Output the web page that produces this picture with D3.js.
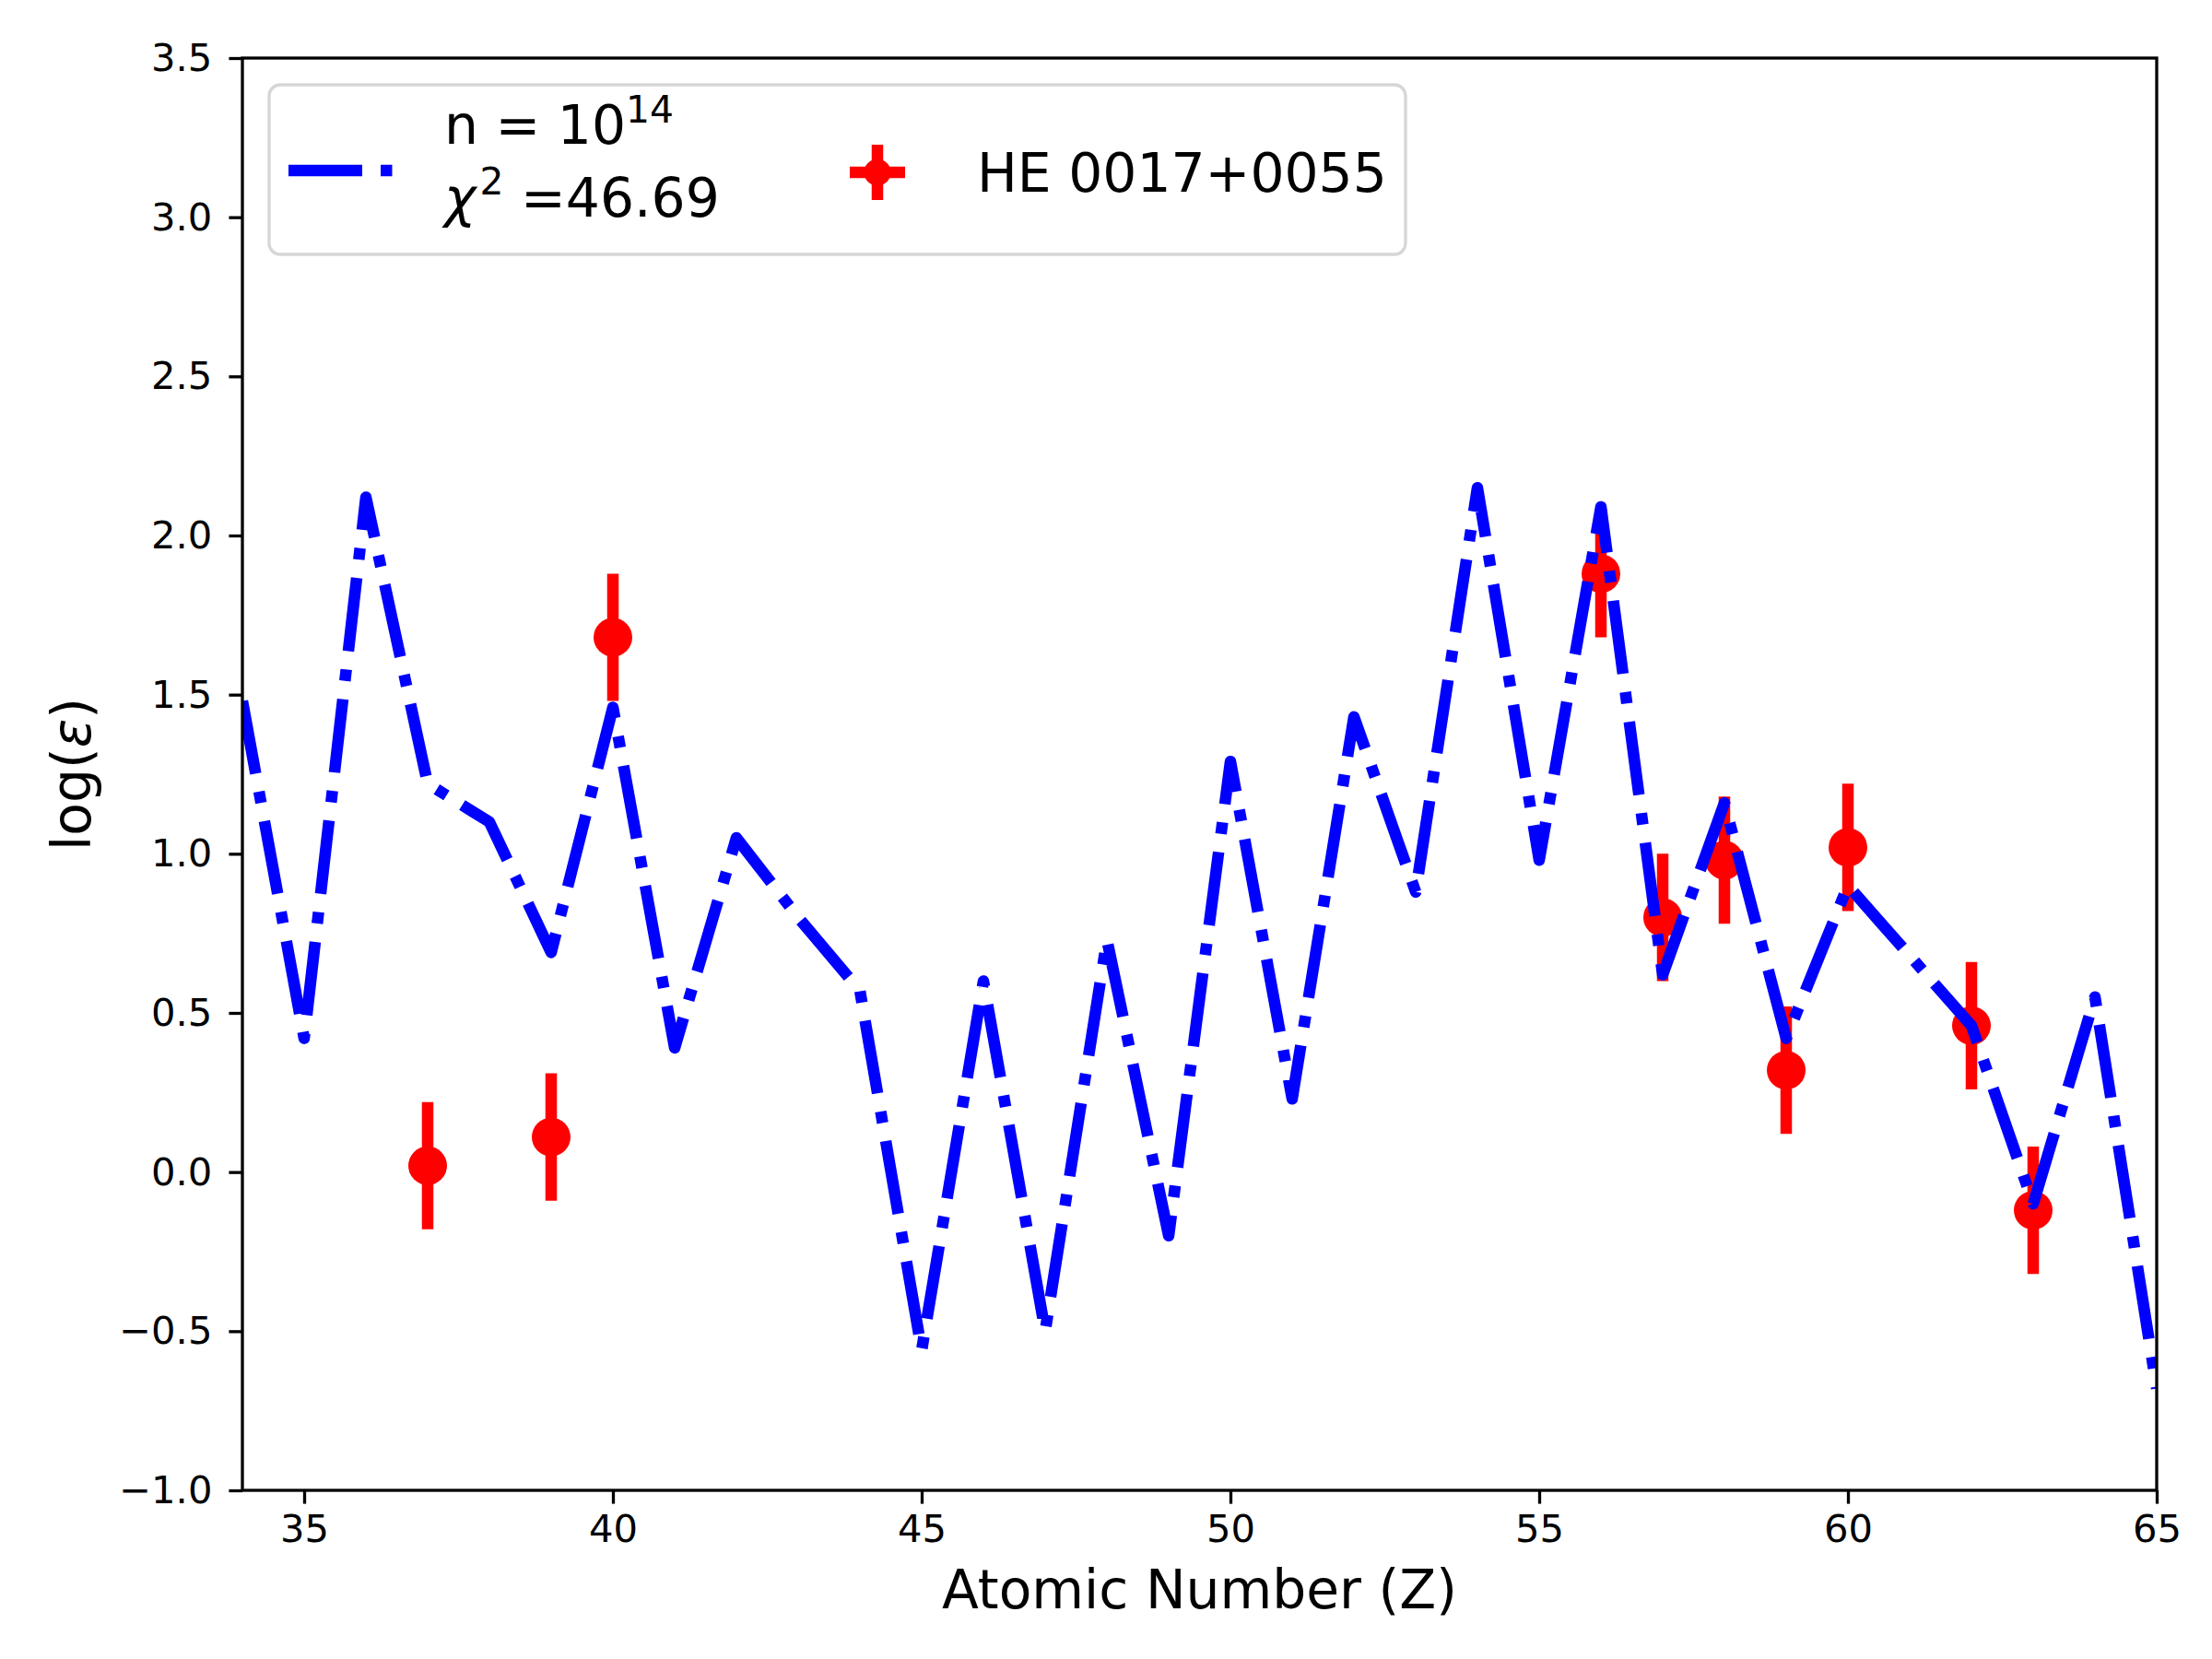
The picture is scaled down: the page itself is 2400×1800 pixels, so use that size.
<!DOCTYPE html>
<html>
<head>
<meta charset="utf-8">
<script src="https://cdn.jsdelivr.net/npm/d3@7"></script>
<style>
  body { margin: 0; background: #fff; }
</style>
</head>
<body>
<div id="chart"></div>
<script>
// Model abundances (n = 10^14) for every Z, and the observed star
const zModel = [34, 35, 36, 37, 38, 39, 40, 41, 42, 43, 44, 45, 46, 47, 48, 49,
  50, 51, 52, 53, 54, 55, 56, 57, 58, 59, 60, 61, 62, 63, 64, 65]
const logModel = [1.48, 0.42, 2.12, 1.22, 1.10, 0.69, 1.46, 0.39, 1.05, 0.80, 0.57, -0.56, 0.60, -0.50, 0.73, -0.20,
  1.29, 0.23, 1.43, 0.88, 2.15, 0.98, 2.09, 0.62, 1.16, 0.42, 0.90, 0.68, 0.46, -0.10, 0.55, -0.68]

const zObs = [37, 39, 40, 56, 57, 58, 59, 60, 62, 63]
const logObs = [0.02, 0.11, 1.68, 1.88, 0.80, 0.98, 0.32, 1.02, 0.46, -0.12]
const errObs = [0.2, 0.2, 0.2, 0.2, 0.2, 0.2, 0.2, 0.2, 0.2, 0.2]

const xTicks = [35, 40, 45, 50, 55, 60, 65]
const yTicks = [-1.0, -0.5, 0.0, 0.5, 1.0, 1.5, 2.0, 2.5, 3.0, 3.5]

const modelLabel = ['n = 10', '14', '=46.69']
const obsLabel = 'HE 0017+0055'

// Figure layout (8x6 in at 300 dpi)
const width = 2400
const height = 1800
const margin = {left: 263, right: 60, top: 63, bottom: 183}
const plotW = width - margin.left - margin.right
const plotH = height - margin.top - margin.bottom
const font = "'DejaVu Sans', sans-serif"
const lw = 12.5

const svg = d3.select('#chart')
  .append('svg')
  .attr('width', width)
  .attr('height', height)
  .style('font-family', font)

svg.append('rect')
  .attr('width', width)
  .attr('height', height)
  .attr('fill', '#fff')

const xScale = d3.scaleLinear().domain([34, 65]).range([0, plotW])
const yScale = d3.scaleLinear().domain([-1, 3.5]).range([plotH, 0])

svg.append('defs').append('clipPath')
  .attr('id', 'plot-clip')
  .append('rect')
  .attr('width', plotW)
  .attr('height', plotH)

const gChart = svg.append('g')
  .attr('transform', `translate(${margin.left},${margin.top})`)

const gData = gChart.append('g').attr('clip-path', 'url(#plot-clip)')

// Observed points with error bars
const obs = zObs.map((z, i) => ({z: z, v: logObs[i], e: errObs[i]}))

gData.selectAll('.errbar')
  .data(obs)
  .join('line')
  .attr('class', 'errbar')
  .attr('x1', d => xScale(d.z))
  .attr('x2', d => xScale(d.z))
  .attr('y1', d => yScale(d.v - d.e))
  .attr('y2', d => yScale(d.v + d.e))
  .attr('stroke', 'red')
  .attr('stroke-width', lw)

gData.selectAll('.obs')
  .data(obs)
  .join('circle')
  .attr('class', 'obs')
  .attr('cx', d => xScale(d.z))
  .attr('cy', d => yScale(d.v))
  .attr('r', 21)
  .attr('fill', 'red')

// Model line, dash-dot
const line = d3.line()
  .x(d => xScale(d[0]))
  .y(d => yScale(d[1]))

gData.append('path')
  .datum(zModel.map((z, i) => [z, logModel[i]]))
  .attr('d', line)
  .attr('fill', 'none')
  .attr('stroke', 'blue')
  .attr('stroke-width', lw)
  .attr('stroke-dasharray', `${6.4 * lw},${1.6 * lw},${lw},${1.6 * lw}`)
  .attr('stroke-linejoin', 'round')
  .attr('stroke-linecap', 'butt')

// Axes
const bAxis = gChart.append('g')
  .attr('transform', `translate(0,${plotH})`)
  .call(d3.axisBottom(xScale)
    .tickValues(xTicks)
    .tickFormat(d3.format('d'))
    .tickSize(14.6)
    .tickPadding(12)
    .tickSizeOuter(0))

const lAxis = gChart.append('g')
  .call(d3.axisLeft(yScale)
    .tickValues(yTicks)
    .tickFormat(d3.format('.1f'))
    .tickSize(14.6)
    .tickPadding(18)
    .tickSizeOuter(0))

;[bAxis, lAxis].forEach(a => {
  a.select('.domain').remove()
  a.selectAll('.tick line').attr('stroke', '#000').attr('stroke-width', 3.3)
  a.selectAll('.tick text')
    .attr('fill', '#000')
    .style('font-family', font)
    .style('font-size', '41.7px')
})

// Frame
gChart.append('rect')
  .attr('width', plotW)
  .attr('height', plotH)
  .attr('fill', 'none')
  .attr('stroke', '#000')
  .attr('stroke-width', 3.3)

// Axis labels
svg.append('text')
  .attr('x', margin.left + plotW / 2)
  .attr('y', 1745)
  .attr('text-anchor', 'middle')
  .style('font-size', '58.3px')
  .text('Atomic Number (Z)')

const yLabel = svg.append('text')
  .attr('transform', `translate(98,${margin.top + plotH / 2}) rotate(-90)`)
  .attr('text-anchor', 'middle')
  .style('font-size', '58.3px')
yLabel.append('tspan').text('log(')
yLabel.append('tspan').style('font-style', 'italic').text('ε')
yLabel.append('tspan').text(')')

// Legend
const legend = svg.append('g')

legend.append('rect')
  .attr('x', 292)
  .attr('y', 92)
  .attr('width', 1233)
  .attr('height', 184)
  .attr('rx', 12)
  .attr('fill', '#fff')
  .attr('stroke', '#d6d6d6')
  .attr('stroke-width', 3.3)

legend.append('line')
  .attr('x1', 313)
  .attr('x2', 433)
  .attr('y1', 185)
  .attr('y2', 185)
  .attr('stroke', 'blue')
  .attr('stroke-width', lw)
  .attr('stroke-dasharray', `${6.4 * lw},${1.6 * lw},${lw},${1.6 * lw}`)

const t1 = legend.append('text')
  .attr('x', 482)
  .attr('y', 156)
  .style('font-size', '58.3px')
t1.append('tspan').text(modelLabel[0])
t1.append('tspan')
  .attr('dy', -23)
  .style('font-size', '40.8px')
  .text(modelLabel[1])

const t2 = legend.append('text')
  .attr('x', 482)
  .attr('y', 235)
  .style('font-size', '58.3px')
t2.append('tspan').style('font-style', 'italic').text('χ')
t2.append('tspan')
  .attr('dx', 4)
  .attr('dy', -24)
  .style('font-size', '40.8px')
  .text('2')
t2.append('tspan')
  .attr('dy', 24)
  .text(' ' + modelLabel[2])

legend.append('line')
  .attr('x1', 952)
  .attr('x2', 952)
  .attr('y1', 157)
  .attr('y2', 217)
  .attr('stroke', 'red')
  .attr('stroke-width', lw)
legend.append('line')
  .attr('x1', 922)
  .attr('x2', 982)
  .attr('y1', 187)
  .attr('y2', 187)
  .attr('stroke', 'red')
  .attr('stroke-width', lw)
legend.append('circle')
  .attr('cx', 952)
  .attr('cy', 187)
  .attr('r', 14.5)
  .attr('fill', 'red')

legend.append('text')
  .attr('x', 1060)
  .attr('y', 208)
  .style('font-size', '58.3px')
  .text(obsLabel)
</script>
</body>
</html>
